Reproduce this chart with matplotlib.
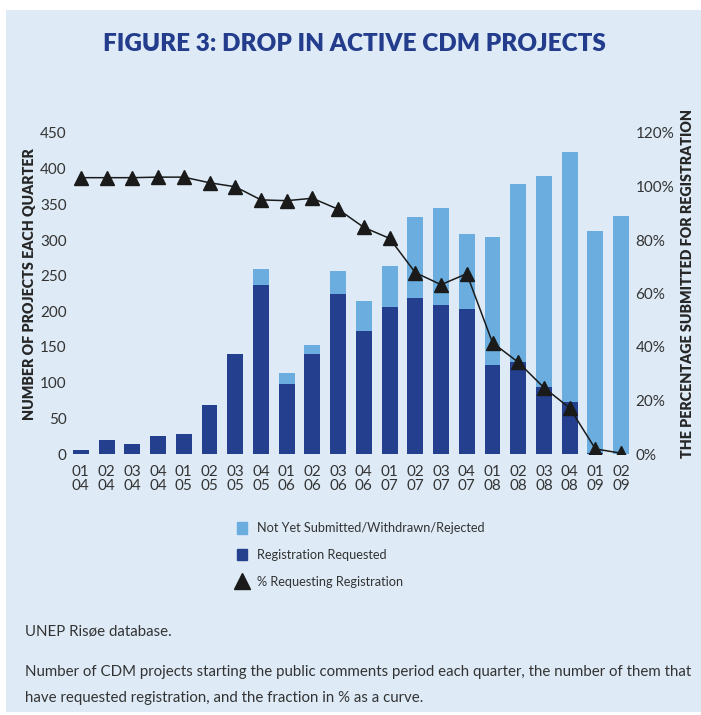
import matplotlib
matplotlib.use("Agg")
import matplotlib.pyplot as plt
from matplotlib.patches import Rectangle, Patch
from matplotlib.lines import Line2D

# quarters (quarter / year)
quarters = ["01\n04", "02\n04", "03\n04", "04\n04", "01\n05", "02\n05", "03\n05", "04\n05",
            "01\n06", "02\n06", "03\n06", "04\n06", "01\n07", "02\n07", "03\n07", "04\n07",
            "01\n08", "02\n08", "03\n08", "04\n08", "01\n09", "02\n09"]

# projects starting public comments each quarter
total = [6, 20, 14, 25, 28, 69, 140, 259, 113, 153, 256, 214,
         263, 332, 345, 308, 304, 378, 390, 423, 312, 334]
# of which registration requested
requested = [6, 20, 14, 25, 28, 69, 140, 237, 98, 140, 224, 172,
             206, 219, 209, 203, 125, 129, 94, 73, 1, 0]
# % requesting registration (curve)
pct = [103.3, 103.3, 103.3, 103.5, 103.5, 101.4, 99.9, 95.0, 94.7, 95.6, 91.5, 84.7,
       80.6, 67.8, 63.3, 67.4, 41.6, 34.3, 24.8, 17.2, 1.9, 0.3]

not_submitted = [t - r for t, r in zip(total, requested)]

bg = "#deebf7"
dark = "#243f8e"
light = "#6badde"
txt = "#333333"

plt.rcParams["font.family"] = ["Lato", "DejaVu Sans"]

W, H = 701, 715
fig = plt.figure(figsize=(W / 100, H / 100), dpi=100)
fig.patch.set_facecolor("white")
fig.patches.append(Rectangle((6 / W, 1 - 712 / H), 695 / W, 702 / H,
                             transform=fig.transFigure, facecolor=bg, edgecolor="none", zorder=-10))

ax = fig.add_axes([68 / W, 1 - 454 / H, 566 / W, 321 / H])
ax.set_facecolor("none")
x = list(range(len(quarters)))
ax.bar(x, requested, width=0.62, color=dark, zorder=2)
ax.bar(x, not_submitted, bottom=requested, width=0.62, color=light, zorder=2)
ax.set_xlim(-0.5, len(quarters) - 0.5)
ax.set_ylim(0, 450)
ax.set_yticks(range(0, 451, 50))
ax.set_xticks(x)
ax.set_xticklabels(quarters, linespacing=0.95)
ax.tick_params(axis="y", length=0, labelsize=11, colors=txt, pad=1)
ax.tick_params(axis="x", length=0, labelsize=11, colors=txt, pad=8)
for s in ax.spines.values():
    s.set_visible(False)

ax2 = ax.twinx()
ax2.plot(x, pct, color="#1a1a1a", lw=1.1, marker="^", ms=10, zorder=3)
ax2.set_ylim(0, 120)
ax2.set_yticks(range(0, 121, 20))
ax2.set_yticklabels([f"{v}%" for v in range(0, 121, 20)])
ax2.tick_params(length=0, labelsize=11, colors=txt, pad=1)
for s in ax2.spines.values():
    s.set_visible(False)

# axis titles
fig.text(30 / W, 1 - 284 / H, "NUMBER OF PROJECTS EACH QUARTER", rotation=90, ha="center",
         va="center", fontsize=10.3, fontweight="heavy", color="#262626")
fig.text(687 / W, 1 - 284 / H, "THE PERCENTAGE SUBMITTED FOR REGISTRATION", rotation=90,
         ha="center", va="center", fontsize=10.3, fontweight="heavy", color="#262626")

fig.text(354 / W, 1 - 44 / H, "FIGURE 3: DROP IN ACTIVE CDM PROJECTS", ha="center", va="center",
         fontsize=17.5, fontweight="heavy", color="#233d8c")

handles = [Patch(color=light), Patch(color=dark),
           Line2D([], [], ls="none", marker="^", color="#1a1a1a", ms=11)]
labels = ["Not Yet Submitted/Withdrawn/Rejected", "Registration Requested", "% Requesting Registration"]
fig.legend(handles, labels, loc="center left", bbox_to_anchor=(237 / W, 1 - 555 / H),
           frameon=False, fontsize=9.2, labelcolor=txt, handlelength=0.8, handleheight=1.0,
           handletextpad=0.75, labelspacing=1.15, borderpad=0, borderaxespad=0)

fig.text(25 / W, 1 - 632 / H, "UNEP Risøe database.", fontsize=10.8, color=txt, va="center")
fig.text(25 / W, 1 - 672 / H,
         "Number of CDM projects starting the public comments period each quarter, the number of them that",
         fontsize=10.8, color=txt, va="center")
fig.text(25 / W, 1 - 698 / H, "have requested registration, and the fraction in % as a curve.",
         fontsize=10.8, color=txt, va="center")

fig.savefig("out.png", dpi=100)
